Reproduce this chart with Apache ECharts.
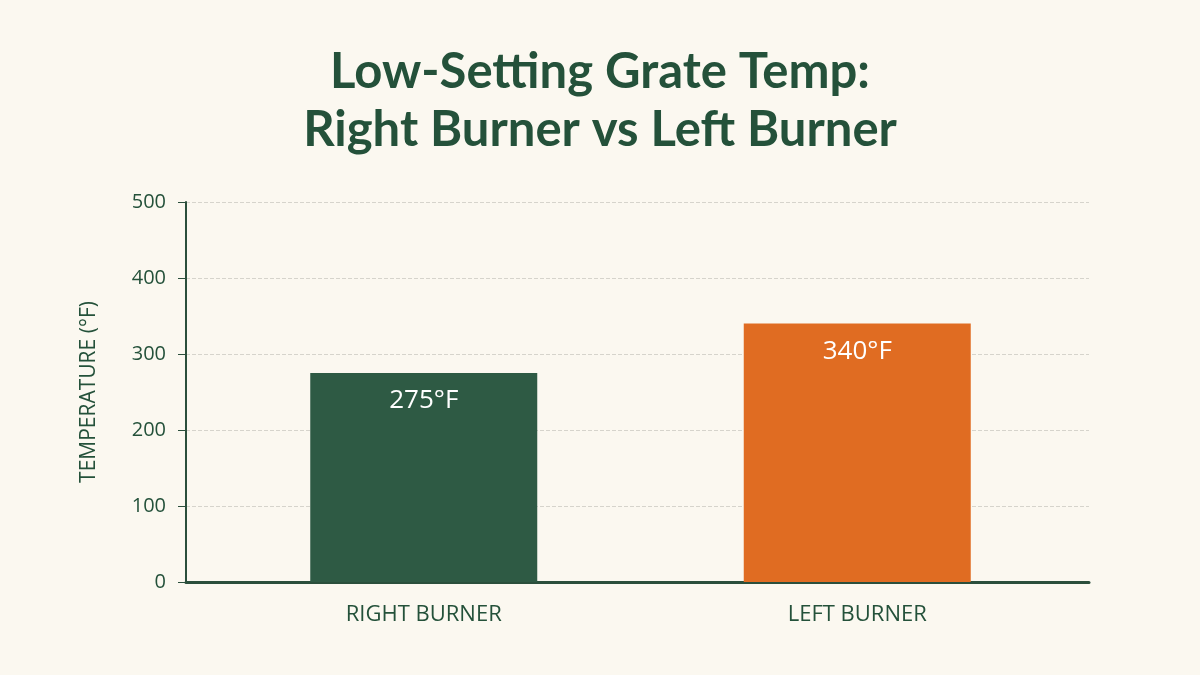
<!DOCTYPE html>
<html>
<head>
<meta charset="utf-8">
<style>
html,body{margin:0;padding:0;background:#fbf8f0;}
#chart{width:1200px;height:675px;}
</style>
<script src="https://cdn.jsdelivr.net/npm/echarts@6/dist/echarts.min.js"></script>
</head>
<body>
<div id="chart"></div>
<script>
const categories = ['RIGHT BURNER', 'LEFT BURNER'];
const temps = [275, 340];
const barColors = ['#2e5a44', '#e06c22'];
const yTicks = [0, 100, 200, 300, 400, 500];

const green = '#24513a';
const chart = echarts.init(document.getElementById('chart'));
chart.setOption({
  backgroundColor: '#fbf8f0',
  title: {
    text: 'Low-Setting Grate Temp:\nRight Burner vs Left Burner',
    left: 'center', top: 38,
    textStyle: { fontFamily: 'Lato', fontWeight: 'bold', fontSize: 49, lineHeight: 58, color: green }
  },
  grid: [
    { left: 186, right: 111, top: 202, bottom: 93 },
    { left: 207, right: 126, top: 202, bottom: 93 }
  ],
  xAxis: [
    { gridIndex: 0, type: 'category', data: categories, axisLabel: { show: false }, axisTick: { show: false },
      axisLine: { lineStyle: { color: '#2b4f3c', width: 3 } } },
    { gridIndex: 1, type: 'category', data: categories, axisTick: { show: false },
      axisLine: { show: false },
      axisLabel: { margin: 22, fontFamily: 'Open Sans', fontSize: 22, color: green } }
  ],
  yAxis: [
    { gridIndex: 0, type: 'value', min: yTicks[0], max: yTicks[yTicks.length - 1], interval: 100,
      name: 'TEMPERATURE (°F)', nameLocation: 'middle', nameGap: 86, nameRotate: 90,
      nameTextStyle: { fontFamily: 'Open Sans', fontSize: 21, color: green },
      axisLine: { show: true, lineStyle: { color: '#2b4f3c', width: 2 } },
      axisTick: { show: true, length: 8, lineStyle: { color: '#2b4f3c', width: 1 } },
      axisLabel: { margin: 20, fontFamily: 'Open Sans', fontSize: 20, color: green },
      splitLine: { lineStyle: { color: '#d6d4cc', type: 'dashed', width: 1 } } },
    { gridIndex: 1, type: 'value', min: yTicks[0], max: yTicks[yTicks.length - 1], interval: 100, show: false,
      splitLine: { show: false } }
  ],
  series: [{
    type: 'bar', xAxisIndex: 1, yAxisIndex: 1, barWidth: 227,
    data: temps.map((v, i) => ({ value: v, itemStyle: { color: barColors[i] } })),
    label: { show: true, position: 'insideTop', distance: 15, formatter: '{c}°F',
      fontFamily: 'Open Sans', fontSize: 26, color: '#ffffff' }
  }]
});
</script>
</body>
</html>
